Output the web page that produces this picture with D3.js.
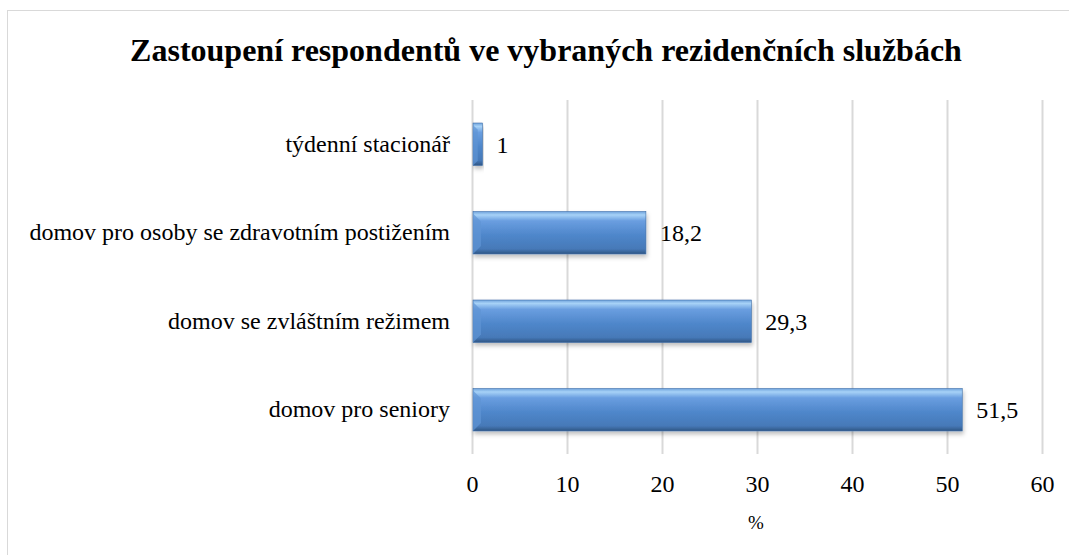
<!DOCTYPE html>
<html>
<head>
<meta charset="utf-8">
<script src="https://cdn.jsdelivr.net/npm/d3@7"></script>
<style>
  body { margin: 0; background: #fff; }
  text { font-family: "Liberation Serif", "Times New Roman", serif; fill: #000; }
</style>
</head>
<body>
<div id="chart"></div>
<script>
// chart data
const categories = ["týdenní stacionář", "domov pro osoby se zdravotním postižením", "domov se zvláštním režimem", "domov pro seniory"];
const values = [1, 18.2, 29.3, 51.5];
const valueLabels = ["1", "18,2", "29,3", "51,5"];
const xTicks = [0, 10, 20, 30, 40, 50, 60];

const W = 1069, H = 555;
const margin = {top: 100, right: 27, bottom: 101, left: 472};
const plotW = W - margin.left - margin.right,
plotH = H - margin.top - margin.bottom;
const serif = "'Liberation Serif', 'Times New Roman', serif";

const svg = d3.select("#chart").append("svg")
    .attr("width", W)
    .attr("height", H);

// gradient + shadow for the bevelled bars
const defs = svg.append("defs");
const grad = defs.append("linearGradient")
    .attr("id", "barGrad")
    .attr("x1", 0).attr("y1", 0).attr("x2", 0).attr("y2", 1);
grad.append("stop").attr("offset", "0%").attr("stop-color", "#6fa2dc");
grad.append("stop").attr("offset", "8%").attr("stop-color", "#a7d2f7");
grad.append("stop").attr("offset", "22%").attr("stop-color", "#6a9ee0");
grad.append("stop").attr("offset", "55%").attr("stop-color", "#4f87cb");
grad.append("stop").attr("offset", "88%").attr("stop-color", "#4679b8");
grad.append("stop").attr("offset", "100%").attr("stop-color", "#2f5684");

const shadow = defs.append("filter").attr("id", "shadow")
    .attr("x", "-5%").attr("y", "-20%").attr("width", "115%").attr("height", "160%");
shadow.append("feDropShadow")
    .attr("dx", 1).attr("dy", 3).attr("stdDeviation", 2)
    .attr("flood-color", "#000").attr("flood-opacity", 0.25);

// outer frame
svg.append("rect")
    .attr("x", 7.5).attr("y", 10.5)
    .attr("width", W).attr("height", H)
    .attr("fill", "none")
    .attr("stroke", "#d9d9d9");

// title
svg.append("text")
    .attr("x", 546).attr("y", 61)
    .attr("text-anchor", "middle")
    .style("font-size", "32px")
    .style("font-weight", "bold")
    .text("Zastoupení respondentů ve vybraných rezidenčních službách");

const g = svg.append("g")
    .attr("transform", "translate(" + margin.left + "," + margin.top + ")");

const x = d3.scaleLinear()
    .domain([0, 60])
    .range([0, plotW]);

const y = d3.scaleBand()
    .domain(categories)
    .range([0, plotH])
    .paddingInner(0.52)
    .paddingOuter(0.26);

// vertical gridlines
g.append("g")
    .selectAll("line")
    .data(xTicks)
    .join("line")
    .attr("x1", d => Math.round(x(d)) + 0.5)
    .attr("x2", d => Math.round(x(d)) + 0.5)
    .attr("y1", 0)
    .attr("y2", plotH)
    .attr("stroke", "#d9d9d9")
    .attr("stroke-width", 2);

// x axis
const xAxis = g.append("g")
    .attr("transform", "translate(0," + plotH + ")")
    .call(d3.axisBottom(x).tickValues(xTicks).tickSize(0).tickPadding(21));
xAxis.select(".domain").remove();
xAxis.selectAll("text")
    .style("font-size", "24px")
    .style("font-family", serif);

// y axis labels
const yAxis = g.append("g")
    .call(d3.axisLeft(y).tickSize(0).tickPadding(22));
yAxis.select(".domain").remove();
yAxis.selectAll("text")
    .style("font-size", "24px")
    .style("font-family", serif);

// bars
g.selectAll(".bar")
    .data(categories)
    .join("rect")
    .attr("class", "bar")
    .attr("x", x(0) + 1)
    .attr("y", d => y(d))
    .attr("width", (d, i) => x(values[i]) - x(0))
    .attr("height", y.bandwidth())
    .attr("fill", "url(#barGrad)")
    .attr("stroke", "#3f6fa8")
    .attr("stroke-width", 0.6)
    .attr("filter", "url(#shadow)");

// bevel on the left end
g.selectAll(".bevel")
    .data(categories)
    .join("path")
    .attr("class", "bevel")
    .attr("d", (d, i) => {
        const x0 = x(0) + 1, y0 = y(d), h = y.bandwidth();
        const b = Math.min(8, (x(values[i]) - x(0)) / 2);
        return "M" + x0 + "," + (y0 + 2) + "L" + (x0 + b) + "," + (y0 + b + 2) +
            "L" + (x0 + b) + "," + (y0 + h - b) + "L" + x0 + "," + (y0 + h) + "Z";
    })
    .attr("fill", "#5f94d4")
    .attr("opacity", 0.7);

// value labels
g.selectAll(".val")
    .data(categories)
    .join("text")
    .attr("class", "val")
    .attr("x", (d, i) => x(values[i]) + 15)
    .attr("y", d => y(d) + y.bandwidth() / 2)
    .attr("dy", "0.35em")
    .style("font-size", "24px")
    .text((d, i) => valueLabels[i]);

// axis title
svg.append("text")
    .attr("x", 756).attr("y", 529)
    .attr("text-anchor", "middle")
    .style("font-size", "19px")
    .text("%");
</script>
</body>
</html>
